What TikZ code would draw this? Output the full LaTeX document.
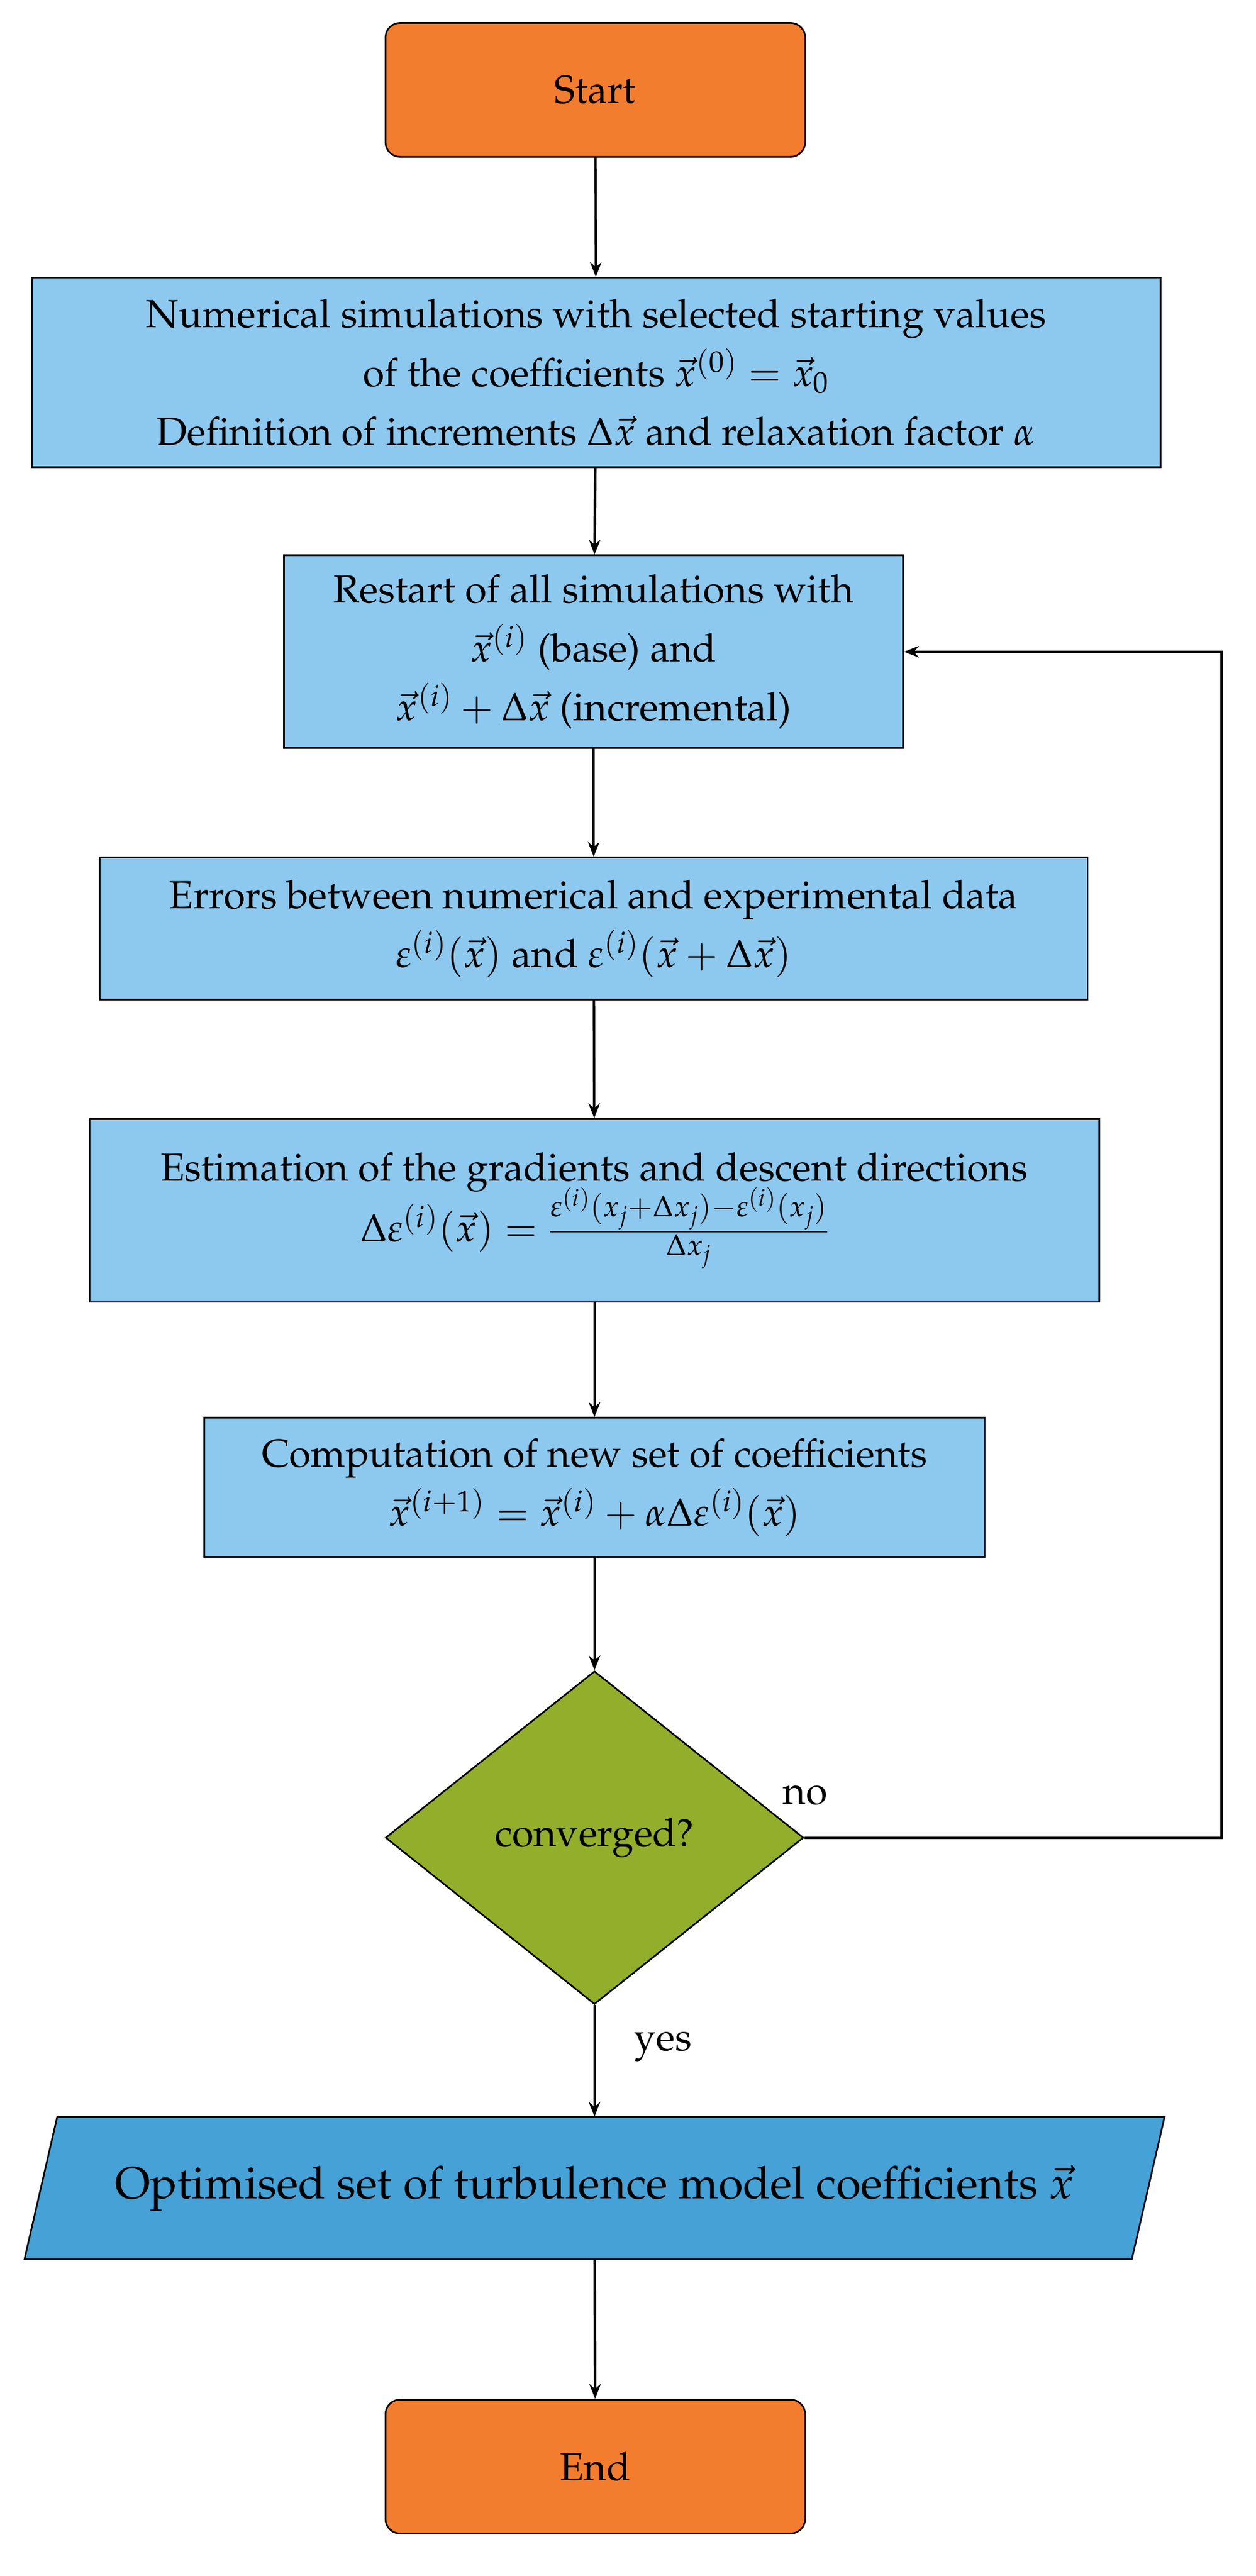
\documentclass[tikz,border=0pt]{standalone}
\usepackage[T1]{fontenc}
\usepackage{mathpazo}
\usetikzlibrary{shapes.geometric,arrows.meta}
\definecolor{orng}{HTML}{F37D2F}
\definecolor{lblue}{HTML}{8DC8EE}
\definecolor{grn}{HTML}{93AE2A}
\definecolor{dblue}{HTML}{45A1D6}
\begin{document}
\begin{tikzpicture}[x=1pt,y=-1pt,
  every node/.style={font=\fontsize{24}{36}\selectfont},
  term/.style={draw,line width=1pt,fill=orng,rounded corners=9pt,minimum width=257pt,minimum height=82pt,inner sep=0},
  proc/.style={draw,line width=1pt,fill=lblue,inner sep=0,align=center},
  arr/.style={-{Stealth[length=9pt,width=7pt]},line width=1.5pt}]
\useasboundingbox (0,0) rectangle (769,1577);
\node[term] (start) at (364.5,55) {Start};
\node[proc,minimum width=691pt,minimum height=116pt] (b1) at (365,228) {Numerical simulations with selected starting values\\ of the coefficients $\vec{x}^{(0)}=\vec{x}_0$\\ Definition of increments $\Delta\vec{x}$ and relaxation factor $\alpha$};
\node[proc,minimum width=379pt,minimum height=118pt] (b2) at (363.5,399) {Restart of all simulations with\\ $\vec{x}^{(i)}$ (base) and\\ $\vec{x}^{(i)}+\Delta\vec{x}$ (incremental)};
\node[proc,minimum width=605pt,minimum height=87pt] (b3) at (363.5,568.5) {Errors between numerical and experimental data\\ $\varepsilon^{(i)}(\vec{x})$ and $\varepsilon^{(i)}(\vec{x}+\Delta\vec{x})$};
\node[proc,minimum width=618pt,minimum height=112pt] (b4) at (364,741) {Estimation of the gradients and descent directions\\[-4pt] $\Delta\varepsilon^{(i)}(\vec{x})=\frac{\varepsilon^{(i)}(x_j+\Delta x_j)-\varepsilon^{(i)}(x_j)}{\Delta x_j}$};
\node[proc,minimum width=478pt,minimum height=85pt] (b5) at (364,910.5) {Computation of new set of coefficients\\ $\vec{x}^{(i+1)}=\vec{x}^{(i)}+\alpha\Delta\varepsilon^{(i)}(\vec{x})$};
\node[diamond,draw,line width=1pt,fill=grn,minimum width=256pt,minimum height=204pt,inner sep=0] (dec) at (364,1125) {converged?};
\coordinate (pTL) at (35,1296); \coordinate (pTR) at (713,1296);
\coordinate (pBR) at (693,1383); \coordinate (pBL) at (15,1383);
\draw[line width=1pt,fill=dblue] (pTL)--(pTR)--(pBR)--(pBL)--cycle;
\node[inner sep=0,minimum height=87pt,minimum width=640pt,font=\fontsize{27.5}{34}\selectfont] (out) at (364,1339.5) {Optimised set of turbulence model coefficients $\vec{x}$};
\node[term] (end) at (364.5,1510) {End};
\draw[arr] (start) -- (b1);
\draw[arr] (b1) -- (b2);
\draw[arr] (b2) -- (b3);
\draw[arr] (b3) -- (b4);
\draw[arr] (b4) -- (b5);
\draw[arr] (b5) -- (dec);
\draw[arr] (dec) -- (out);
\node (yes) at (406,1253) {yes};
\draw[arr] (out) -- (end);
\coordinate (lp) at (748,1125);
\draw[arr] (dec.east) -- (lp) |- (b2.east);
\node (no) at (493,1099) {no};
\end{tikzpicture}
\end{document}
